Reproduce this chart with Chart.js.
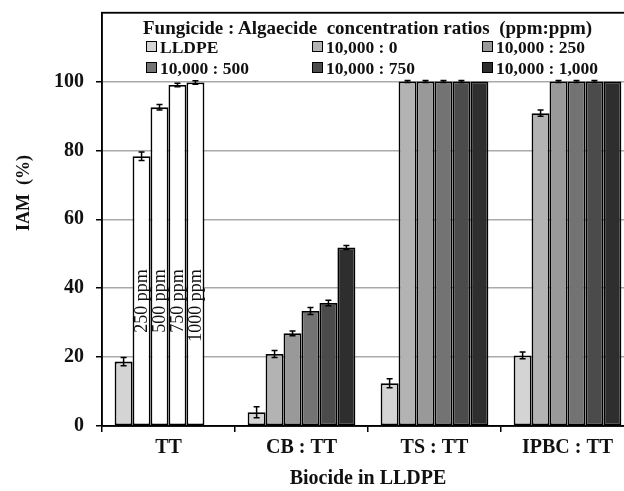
<!DOCTYPE html>
<html>
<head>
<meta charset="utf-8">
<script src="https://cdn.jsdelivr.net/npm/chart.js@4.4.0/dist/chart.umd.min.js"></script>
<style>
    html, body { margin: 0; padding: 0; background: #fff; overflow: hidden; }
    #wrap { position: relative; width: 640px; height: 491px; }
    #legend { position: absolute; left: 0; top: 0; font-family: "Liberation Serif", "Times New Roman", serif; font-weight: bold; color: #111; }
    .lg-title { position: absolute; left: 143px; top: 18px; font-size: 19px; white-space: pre; line-height: 19px; }
    .lg-item { position: absolute; font-size: 17.5px; line-height: 17px; white-space: pre; }
    .lg-box { display: inline-block; width: 9px; height: 9px; border: 1px solid #000; margin-right: 3px; vertical-align: 1px; }
</style>
</head>
<body>
<div id="wrap">
    <canvas id="chart" width="640" height="491"></canvas>
    <div id="legend"></div>
</div>
<script>
const categories = ['TT', 'CB : TT', 'TS : TT', 'IPBC : TT'];
const seriesLabels = ['LLDPE', '10,000 : 0', '10,000 : 250', '10,000 : 500', '10,000 : 750', '10,000 : 1,000'];
const seriesColors = ['#d4d4d4', '#b3b3b3', '#999999', '#737373', '#4b4b4b', '#2e2e2e'];
const legendTitle = 'Fungicide : Algaecide  concentration ratios  (ppm:ppm)';

// IAM (%) per series, one value per category
const lldpe     = [18.7, 4.0, 12.4, 20.5];
const ratio0    = [78.3, 20.9, 100, 90.8];
const ratio250  = [92.5, 26.9, 100, 100];
const ratio500  = [99.0, 33.4, 100, 100];
const ratio750  = [99.7, 35.7, 100, 100];
const ratio1000 = [null, 51.8, 100, 100];

// error (+/-)
const errLldpe     = [1.2, 1.6, 1.3, 1.0];
const errRatio0    = [1.2, 1.0, 0.3, 0.9];
const errRatio250  = [0.8, 0.7, 0.3, 0.3];
const errRatio500  = [0.5, 1.0, 0.3, 0.3];
const errRatio750  = [0.5, 0.8, 0.3, 0.3];
const errRatio1000 = [0, 0.6, 0, 0];

// TT alone: white bars labelled by dose
const ttDoseLabels = ['250 ppm', '500 ppm', '750 ppm', '1000 ppm'];
const ttDoseLabelTop = 45.5;

const yTicks = [0, 20, 40, 60, 80, 100];
const yMax = 120;

const seriesValues = [lldpe, ratio0, ratio250, ratio500, ratio750, ratio1000];
const seriesErrors = [errLldpe, errRatio0, errRatio250, errRatio500, errRatio750, errRatio1000];

const serif = '"Liberation Serif", "Times New Roman", serif';

const datasets = seriesValues.map((vals, i) => ({
    label: seriesLabels[i],
    data: vals,
    // TT-only dose bars are white
    backgroundColor: categories.map((c, j) => (j === 0 && i >= 1 && i <= 4) ? '#ffffff' : seriesColors[i]),
    borderColor: '#000',
    borderWidth: 1.8,
    borderSkipped: false,
    categoryPercentage: 0.81,
    barPercentage: 1.0
}));

const extras = {
    id: 'extras',
    afterDatasetsDraw(chart) {
        const ctx = chart.ctx;
        const y = chart.scales.y;
        ctx.save();
        // error bars
        ctx.strokeStyle = '#000';
        ctx.lineWidth = 1.5;
        seriesValues.forEach((vals, i) => {
            const meta = chart.getDatasetMeta(i);
            meta.data.forEach((bar, j) => {
                const v = vals[j], e = seriesErrors[i][j];
                if (v == null || !e) return;
                const top = y.getPixelForValue(v + e);
                const bot = y.getPixelForValue(v - e);
                ctx.beginPath();
                ctx.moveTo(bar.x, top); ctx.lineTo(bar.x, bot);
                ctx.moveTo(bar.x - 3, top); ctx.lineTo(bar.x + 3, top);
                ctx.moveTo(bar.x - 3, bot); ctx.lineTo(bar.x + 3, bot);
                ctx.stroke();
            });
        });
        // dose labels inside the TT bars
        ctx.fillStyle = '#111';
        ctx.font = '18px ' + serif;
        ctx.textAlign = 'right';
        ctx.textBaseline = 'middle';
        ttDoseLabels.forEach((txt, k) => {
            const bar = chart.getDatasetMeta(k + 1).data[0];
            ctx.save();
            ctx.translate(bar.x + 1, y.getPixelForValue(ttDoseLabelTop));
            ctx.rotate(-Math.PI / 2);
            ctx.fillText(txt, 0, 0);
            ctx.restore();
        });
        // frame
        const a = chart.chartArea;
        ctx.strokeStyle = '#000';
        ctx.lineWidth = 1.5;
        ctx.strokeRect(a.left, a.top, a.right - a.left, a.bottom - a.top);
        // y title
        ctx.font = 'bold 18px ' + serif;
        ctx.textAlign = 'center';
        ctx.translate(24, 193);
        ctx.rotate(-Math.PI / 2);
        ctx.fillText('IAM  (%)', 0, 0);
        ctx.restore();
    }
};

new Chart(document.getElementById('chart'), {
    type: 'bar',
    data: { labels: categories, datasets: datasets },
    options: {
        responsive: false,
        animation: false,
        layout: { padding: { top: 0, right: 6, left: 0, bottom: 0 } },
        plugins: { legend: { display: false }, tooltip: { enabled: false } },
        scales: {
            x: {
                afterFit: s => { s.height = 65; },
                grid: { offset: true, drawOnChartArea: false, tickLength: 6, color: '#000', tickColor: '#000', lineWidth: 1.5 },
                border: { color: '#000', width: 1.5 },
                ticks: { color: '#111', padding: 4, font: { family: serif, size: 20, weight: 'bold' } },
                title: { display: true, text: 'Biocide in LLDPE', color: '#111', padding: { top: 2, bottom: 0 }, font: { family: serif, size: 20, weight: 'bold' } }
            },
            y: {
                min: 0,
                max: yMax,
                afterFit: s => { s.width = 102; },
                afterBuildTicks: s => { s.ticks = yTicks.concat([yMax]).map(v => ({ value: v })); },
                grid: {
                    color: c => c.tick && c.tick.value === yMax ? '#000' : '#aaaaaa',
                    tickColor: c => c.tick && c.tick.value === yMax ? 'rgba(0,0,0,0)' : '#000',
                    lineWidth: 1.5,
                    tickLength: 6
                },
                border: { color: '#000', width: 1.5 },
                ticks: {
                    color: '#111',
                    padding: 12,
                    // the unlabelled top tick gets a tiny font so it adds no top padding
                    font: c => (c.tick && c.tick.value === yMax)
                        ? { family: serif, size: 1 }
                        : { family: serif, size: 20, weight: 'bold' },
                    callback: v => v === yMax ? '' : v
                }
            }
        }
    },
    plugins: [extras]
});

// legend drawn as HTML over the plot
const legendEl = document.getElementById('legend');
const t = document.createElement('div');
t.className = 'lg-title';
t.textContent = legendTitle;
legendEl.appendChild(t);
const colX = [146, 312, 482];
const rowY = [39, 60];
seriesLabels.forEach((lab, i) => {
    const d = document.createElement('div');
    d.className = 'lg-item';
    d.style.left = colX[i % 3] + 'px';
    d.style.top = rowY[Math.floor(i / 3)] + 'px';
    const b = document.createElement('span');
    b.className = 'lg-box';
    b.style.background = seriesColors[i];
    d.appendChild(b);
    d.appendChild(document.createTextNode(lab));
    legendEl.appendChild(d);
});
</script>
</body>
</html>
